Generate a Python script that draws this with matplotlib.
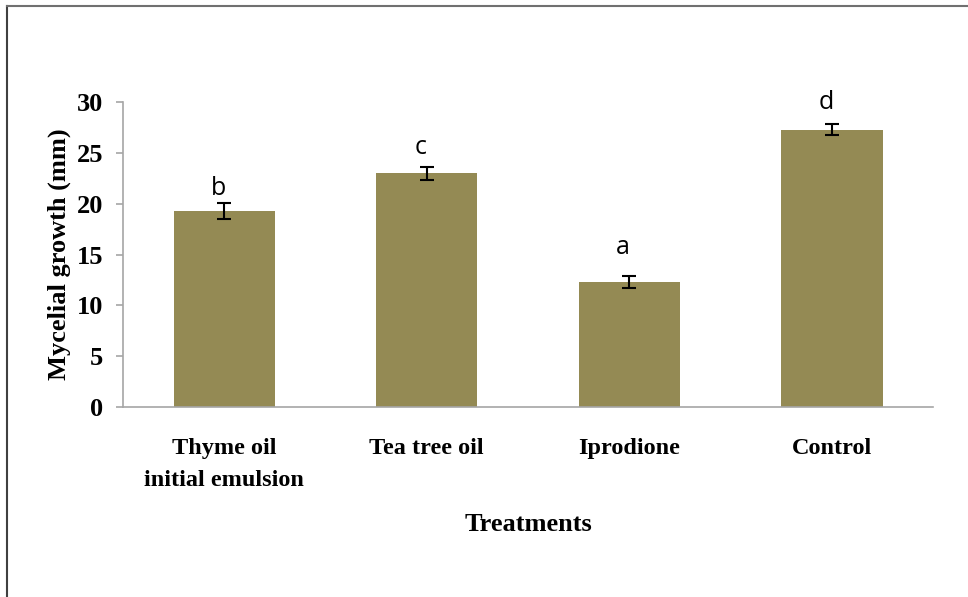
import matplotlib
matplotlib.use("Agg")
import matplotlib.pyplot as plt
from matplotlib.lines import Line2D

# data
treatments = ["Thyme oil\ninitial emulsion", "Tea tree oil", "Iprodione", "Control"]
growth = [19.3, 23.0, 12.3, 27.3]
errors = [0.8, 0.65, 0.55, 0.5]
letters = ["b", "c", "a", "d"]
letter_y = [20.9, 24.9, 15.1, 29.3]

fig = plt.figure(figsize=(9.68, 5.97), dpi=100)
ax = fig.add_axes([0.127, 0.318, 0.837, 0.511])

x = range(len(treatments))
ax.bar(x, growth, width=0.5, color="#948A54", zorder=2)
ax.errorbar(x, growth, yerr=errors, fmt="none", ecolor="black",
            elinewidth=1.5, capsize=5, capthick=1.5, zorder=3)

for i, (lab, ly) in enumerate(zip(letters, letter_y)):
    ax.text(i - 0.03, ly, lab, ha="center", va="baseline",
            fontsize=18, family="Open Sans")

ax.set_xlim(-0.5, 3.5)
ax.set_ylim(0, 30)
ax.set_yticks([0, 5, 10, 15, 20, 25, 30])
ax.set_xticks(list(x))
ax.set_xticklabels(treatments)
for t in ax.get_xticklabels():
    t.set_fontsize(17.5)
    t.set_fontweight("bold")
    t.set_family("Liberation Serif")
    t.set_linespacing(1.7)
for t in ax.get_yticklabels():
    t.set_fontsize(19)
    t.set_fontweight("bold")
    t.set_family("Liberation Serif")

ax.tick_params(axis="x", length=0, pad=22)
ax.tick_params(axis="y", length=5, color="#a6a6a6", width=1.2, pad=9)

ax.spines["top"].set_visible(False)
ax.spines["right"].set_visible(False)
ax.spines["left"].set_color("#a6a6a6")
ax.spines["bottom"].set_color("#a6a6a6")
ax.spines["left"].set_linewidth(1.2)
ax.spines["bottom"].set_linewidth(1.2)

ax.set_ylabel("Mycelial growth (mm)", fontsize=19, fontweight="bold",
              family="Liberation Serif", labelpad=4)
ax.set_xlabel("Treatments", fontsize=19, fontweight="bold",
              family="Liberation Serif", labelpad=16)

# outer frame (only left and top edges show in the original)
fig.add_artist(Line2D([0.007, 0.007], [0, 0.99], transform=fig.transFigure,
                      color="#404040", lw=1.5))
fig.add_artist(Line2D([0.007, 1.0], [0.99, 0.99], transform=fig.transFigure,
                      color="#707070", lw=1.5))

fig.savefig("out.png", dpi=100)
